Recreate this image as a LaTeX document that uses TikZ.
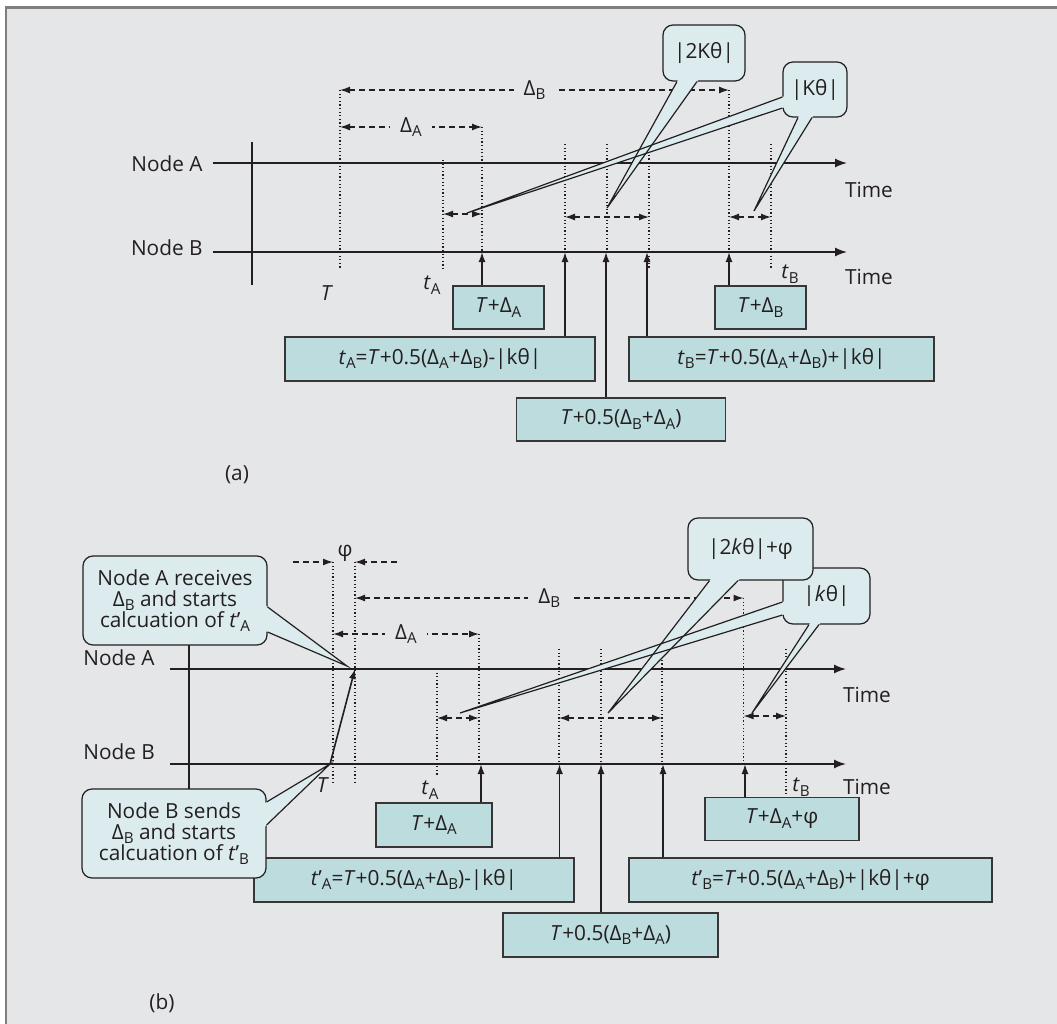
\documentclass[tikz,border=0pt]{standalone}
\usepackage{fontspec}
\setmainfont{Open Sans}
\usetikzlibrary{arrows.meta,calc}
\definecolor{panel}{HTML}{E5E6E8}
\definecolor{frame}{HTML}{7F7F7F}
\definecolor{boxfill}{HTML}{BCDCDE}
\definecolor{callfill}{HTML}{DCEBEE}
\definecolor{ink}{HTML}{231F20}
\newcommand\lowtag[1]{\raisebox{-2.2pt}{\fontsize{7.6}{8}\selectfont #1}}
\newcommand\sA{\lowtag{A}}
\newcommand\sB{\lowtag{B}}
\newcommand\ti[1]{\textit{#1}}
\tikzset{
    every node/.style={inner sep=0pt, text=ink, font=\fontsize{10.4}{10.6}\selectfont}
}
\tikzset{
    formula/.style={draw=ink!90, fill=boxfill, line width=0.8pt},
    bubble/.style={draw=ink, fill=callfill, line width=0.6pt, rounded corners=5pt, align=center},
    axis/.style={ink, line width=0.75pt, -{Latex[length=6pt,width=4.5pt]}},
    tick/.style={ink, line width=0.55pt, dash pattern=on 0.6pt off 1.2pt},
    dashline/.style={ink, line width=0.65pt, dash pattern=on 3pt off 2pt},
    span/.style={dashline, {Latex[length=5pt,width=3.5pt]}-{Latex[length=5pt,width=3.5pt]}},
    push/.style={dashline, -{Latex[length=5pt,width=3.5pt]}},
    feed/.style={ink, line width=0.8pt, -{Latex[length=5pt,width=3.5pt]}},
    rim/.style={ink, line width=0.6pt},
    gap/.style={fill=panel, inner xsep=5pt, inner ysep=1pt}
}
\begin{document}
\begin{tikzpicture}[x=0.5pt,y=-0.5pt]
        \useasboundingbox (0,0) rectangle (1057,1024);
        \fill[panel] (6,7) rectangle (1057,1024);
        \draw[frame, line width=1.2pt] (6,1024) -- (6,7.5) -- (1057,7.5);

        \node (aNA) [anchor=east] at (203,164) {Node A};
        \node (aNB) [anchor=east] at (203,248) {Node B};
        \node (aTime1) at (869,190) {Time};
        \node (aTime2) at (869,277) {Time};
        \node (aT) at (327,293) {\ti{T}};
        \node (atA) at (432,285) {\ti{t}\sA};
        \node (atB) at (790,274) {\ti{t}\sB};
        \node (alab) at (237,475) {(a)};
        \draw[axis] (213,163) -- (847,163);
        \draw[axis] (213,252) -- (847,252);
        \draw[ink, line width=0.75pt] (252,142) -- (252,285);
        \draw[tick] (340,90) -- (340,268);
        \draw[tick] (443,160) -- (443,269);
        \draw[tick] (482,127) -- (482,252);
        \draw[tick] (565,144) -- (565,252);
        \draw[tick] (607,144) -- (607,252);
        \draw[tick] (649,144) -- (649,269);
        \draw[tick] (729,90) -- (729,252);
        \draw[tick] (771,144) -- (771,269);
        \draw[span] (340,90) -- node (aDB) [gap] {Δ\sB} (729,90);
        \draw[span] (340,127) -- node (aDA) [gap] {Δ\sA} (482,127);
        \draw[span] (443,214) -- (482,214);
        \draw[span] (565,217) -- (649,217);
        \draw[span] (729,217) -- (771,217);
        \node (aTDA) [formula, minimum width=45.5pt, minimum height=21.5pt] at (498.5,307.5) {\ti{T}+Δ\sA};
        \node (atAeq) [formula, minimum width=155pt, minimum height=22pt] at (440,359) {\ti{t}\sA=\ti{T}+0.5(Δ\sA+Δ\sB)-|kθ|};
        \node (aMid) [formula, minimum width=104.5pt, minimum height=21.5pt] at (621,419.5) {\ti{T}+0.5(Δ\sB+Δ\sA)};
        \node (atBeq) [formula, minimum width=152.5pt, minimum height=22pt] at (781.5,359) {\ti{t}\sB=\ti{T}+0.5(Δ\sA+Δ\sB)+|kθ|};
        \node (aTDB) [formula, minimum width=45.5pt, minimum height=21.5pt] at (760.5,307.5) {\ti{T}+Δ\sB};
        \coordinate (qa1) at (482,252);
        \coordinate (qa2) at (565,252);
        \coordinate (qa3) at (606,252);
        \coordinate (qa4) at (647,252);
        \coordinate (qa5) at (729,252);
        \draw[feed] (aTDA.north -| qa1) -- (qa1);
        \draw[feed] (atAeq.north -| qa2) -- (qa2);
        \draw[feed] (aMid.north -| qa3) -- (qa3);
        \draw[feed] (atBeq.north -| qa4) -- (qa4);
        \draw[feed] (aTDB.north -| qa5) -- (qa5);

        \node (bNA) [anchor=west] at (83,658) {Node A};
        \node (bNB) [anchor=west] at (83,752) {Node B};
        \node (bTime1) at (867,695) {Time};
        \node (bTime2) at (867,787) {Time};
        \node (bT) at (323,785) {\ti{T}};
        \node (btA) at (430,790) {\ti{t}\sA};
        \node (btB) at (801,787) {\ti{t}\sB};
        \node (bphi) at (345,553) {φ};
        \node (blab) at (162,1003) {(b)};
        \draw[axis] (170,669) -- (846,669);
        \draw[axis] (170,764) -- (846,764);
        \draw[tick] (333,562) -- (333,785);
        \draw[tick] (355,562) -- (355,785);
        \draw[tick] (437,669) -- (437,775);
        \draw[tick] (479,634) -- (479,764);
        \draw[tick] (559,649) -- (559,764);
        \draw[tick] (601,649) -- (601,764);
        \draw[tick] (662,649) -- (662,775);
        \draw[tick] (743.5,598) -- (743.5,764);
        \draw[tick] (786,649) -- (786,795);
        \draw[push] (293,562) -- (333,562);
        \draw[push] (397,562) -- (355,562);
        \draw[span] (355,598) -- node (bDB) [gap] {Δ\sB} (743.5,598);
        \draw[span] (333,634) -- node (bDA) [gap] {Δ\sA} (479,634);
        \draw[span] (437,718) -- (479,718);
        \draw[span] (559,718) -- (662,718);
        \draw[span] (743.5,716) -- (786,716);
        \coordinate (send) at (330,764);
        \coordinate (recv) at (355,669);
        \draw[feed] (send) -- (recv);
        \node (bTDA) [formula, minimum width=58pt, minimum height=22pt] at (434,825) {\ti{T}+Δ\sA};
        \node (btAeq) [formula, minimum width=160pt, minimum height=22pt] at (414,880) {\ti{t}’\sA=\ti{T}+0.5(Δ\sA+Δ\sB)-|kθ|};
        \node (bMid) [formula, minimum width=107.5pt, minimum height=22pt] at (610.5,935) {\ti{T}+0.5(Δ\sB+Δ\sA)};
        \node (btBeq) [formula, minimum width=181.5pt, minimum height=22pt] at (810.5,880) {\ti{t}’\sB=\ti{T}+0.5(Δ\sA+Δ\sB)+|kθ|+φ};
        \node (bTDAp) [formula, minimum width=77pt, minimum height=21.5pt] at (782,819) {\ti{T}+Δ\sA+φ};
        \coordinate (qb1) at (481,764);
        \coordinate (qb2) at (559.5,764);
        \coordinate (qb3) at (601,764);
        \coordinate (qb4) at (663,764);
        \coordinate (qb5) at (745,764);
        \draw[feed] (bTDA.north -| qb1) -- (qb1);
        \draw[feed] (btAeq.north -| qb2) -- (qb2);
        \draw[feed] (bMid.north -| qb3) -- (qb3);
        \draw[feed] (btBeq.north -| qb4) -- (qb4);
        \draw[feed] (bTDAp.north -| qb5) -- (qb5);
        \draw[ink, line width=0.75pt] (189,645) -- (189,789);

        \node (c2K) [bubble, minimum width=41pt, minimum height=28pt] at (704,53) {|2Kθ|};
        \node (cK) [bubble, minimum width=32pt, minimum height=27.5pt] at (815,89.5) {|Kθ|};
        \node (cA) [bubble, minimum width=92pt, minimum height=44.5pt] at (175,600.5) {Node A receives\\Δ\sB{} and starts\\calcuation of \ti{t}’\sA};
        \node (cB) [bubble, minimum width=92pt, minimum height=44.5pt] at (174,833.5) {Node B sends\\Δ\sB{} and starts\\calcuation of \ti{t}’\sB};
        \node (ck) [bubble, minimum width=43.5pt, minimum height=28pt] at (826.5,596) {|\ti{k}θ|};
        \node (c2k) [bubble, minimum width=62.5pt, minimum height=31pt] at (750.5,549) {|2\ti{k}θ|+φ};

        \coordinate (k1) at (c2K.south -| 677,0);
        \coordinate (k2) at (c2K.south -| 697,0);
        \coordinate (k3) at (cK.west |- 0,97);
        \coordinate (k4) at (cK.west |- 0,108);
        \coordinate (k5) at (cK.south -| 798,0);
        \coordinate (k6) at (cK.south -| 812,0);
        \coordinate (k7) at (cA.east |- 0,607);
        \coordinate (k8) at (cA.east |- 0,632);
        \coordinate (k9) at (cB.east |- 0,802);
        \coordinate (k10) at (cB.east |- 0,825);
        \coordinate (k11) at (c2k.south -| 709.5,0);
        \coordinate (k12) at (c2k.south -| 738,0);
        \coordinate (k13) at (ck.west |- 0,602);
        \coordinate (k14) at (ck.west |- 0,615);
        \coordinate (k15) at (ck.south -| 809,0);
        \coordinate (k16) at (ck.south -| 819,0);
        \coordinate (h1) at (607,208);
        \coordinate (h2) at (467,213);
        \coordinate (h3) at (754,211);
        \coordinate (h4) at (347,666);
        \coordinate (h5) at (608,713);
        \coordinate (h6) at (460,713);
        \coordinate (h7) at (752,713);

        \fill[callfill] ($(k1)!-2pt!(h1)$) -- (h1) -- ($(k2)!-2pt!(h1)$) -- cycle;
        \fill[callfill] ($(k3)!-2pt!(h2)$) -- (h2) -- ($(k4)!-2pt!(h2)$) -- cycle;
        \fill[callfill] ($(k5)!-2pt!(h3)$) -- (h3) -- ($(k6)!-2pt!(h3)$) -- cycle;
        \fill[callfill] ($(k7)!-2pt!(h4)$) -- (h4) -- ($(k8)!-2pt!(h4)$) -- cycle;
        \fill[callfill] ($(k9)!-2pt!(send)$) -- (send) -- ($(k10)!-2pt!(send)$) -- cycle;
        \fill[callfill] ($(k11)!-2pt!(h5)$) -- (h5) -- ($(k12)!-2pt!(h5)$) -- cycle;
        \fill[callfill] ($(k13)!-2pt!(h6)$) -- (h6) -- ($(k14)!-2pt!(h6)$) -- cycle;
        \fill[callfill] ($(k15)!-2pt!(h7)$) -- (h7) -- ($(k16)!-2pt!(h7)$) -- cycle;
        \draw[rim] (k1) -- (h1) -- (k2);
        \draw[rim] (k3) -- (h2) -- (k4);
        \draw[rim] (k5) -- (h3) -- (k6);
        \draw[rim] (k7) -- (h4) -- (k8);
        \draw[rim] (k9) -- (send) -- (k10);
        \draw[rim] (k11) -- (h5) -- (k12);
        \draw[rim] (k13) -- (h6) -- (k14);
        \draw[rim] (k15) -- (h7) -- (k16);
\end{tikzpicture}
\end{document}
